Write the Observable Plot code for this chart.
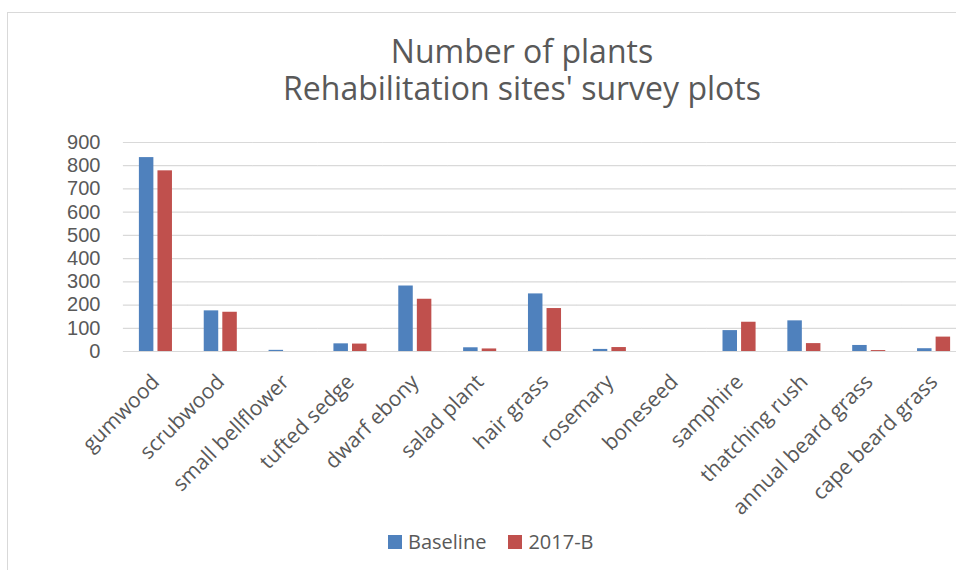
<!DOCTYPE html>
<html>
<head>
<meta charset="utf-8">
<script src="https://cdn.jsdelivr.net/npm/d3@7"></script>
<script src="https://cdn.jsdelivr.net/npm/@observablehq/plot@0.6"></script>
<style>
  html, body { margin: 0; padding: 0; background: #fff; overflow: hidden; }
  #wrap { position: relative; width: 956px; height: 570px; overflow: hidden; font-family: "Open Sans", sans-serif; color: #595959; }
  #frame { position: absolute; left: 7px; top: 12px; width: 1100px; height: 700px; border: 1px solid #d9d9d9; box-sizing: border-box; }
  .title { position: absolute; left: 0; width: 1044px; text-align: center; font-size: 32px; line-height: 32px; height: 32px; color: #595959; white-space: nowrap; }
  #chart { position: absolute; left: 0; top: 130px; }
  #legend { position: absolute; top: 528px; left: 388px; font-size: 20px; display: flex; align-items: center; color: #595959; }
  .sw { display: inline-block; width: 14px; height: 14px; margin-right: 6px; }
  .item { display: flex; align-items: center; margin-right: 22px; }
</style>
</head>
<body>
<div id="wrap">
  <div id="frame"></div>
  <div class="title" style="top: 35px">Number of plants</div>
  <div class="title" style="top: 72px">Rehabilitation sites' survey plots</div>
  <div id="chart"></div>
  <div id="legend"></div>
</div>
<script>
const categories = ["gumwood", "scrubwood", "small bellflower", "tufted sedge", "dwarf ebony", "salad plant", "hair grass", "rosemary", "boneseed", "samphire", "thatching rush", "annual beard grass", "cape beard grass"];
const seriesNames = ["Baseline", "2017-B"];
const baseline = [835, 175, 5, 33, 282, 16, 248, 9, 0, 90, 132, 26, 12];
const b2017 = [778, 169, 0, 32, 225, 11, 185, 17, 0, 126, 34, 4, 62];
const seriesColors = ["#4f81bd", "#c0504d"];
const yTicks = [0, 100, 200, 300, 400, 500, 600, 700, 800, 900];

const data = [];
categories.forEach((c, i) => {
  data.push({category: c, series: seriesNames[0], value: baseline[i]});
  data.push({category: c, series: seriesNames[1], value: b2017[i]});
});

const chart = Plot.plot({
  width: 956,
  height: 400,
  marginLeft: 123,
  marginRight: 0,
  marginTop: 12,
  marginBottom: 179,
  style: {fontFamily: "'Open Sans', sans-serif", color: "#595959", background: "transparent", fontSize: "20px"},
  fx: {domain: categories, range: [123, 966], round: false, paddingInner: 0.49, paddingOuter: 0.245, label: null, axis: null},
  x: {domain: seriesNames, round: false, paddingInner: 0.22, paddingOuter: 0, axis: null},
  y: {domain: [0, 900], label: null, axis: null},
  color: {domain: seriesNames, range: seriesColors},
  marks: [
    Plot.ruleY(yTicks, {stroke: "#d9d9d9", strokeWidth: 1.2, strokeOpacity: 1, insetLeft: -16, insetRight: -16}),
    Plot.barY(data, {fx: "category", x: "series", y: "value", fill: "series", inset: 0}),
    Plot.axisY(yTicks, {tickSize: 0, tickPadding: 39, tickFormat: d3.format("d"), label: null, fontSize: 20, fontFamily: "'Liberation Sans', Arial, sans-serif", fill: "#595959"}),
    Plot.axisFx({anchor: "bottom", tickRotate: -45, tickSize: 0, tickPadding: 27, label: null, fontSize: 21, fill: "#595959"})
  ]
});
document.getElementById("chart").appendChild(chart);

const legend = document.getElementById("legend");
seriesNames.forEach((s, i) => {
  const it = document.createElement("div");
  it.className = "item";
  const sw = document.createElement("span");
  sw.className = "sw";
  sw.style.background = seriesColors[i];
  it.appendChild(sw);
  it.appendChild(document.createTextNode(s));
  legend.appendChild(it);
});
</script>
</body>
</html>
